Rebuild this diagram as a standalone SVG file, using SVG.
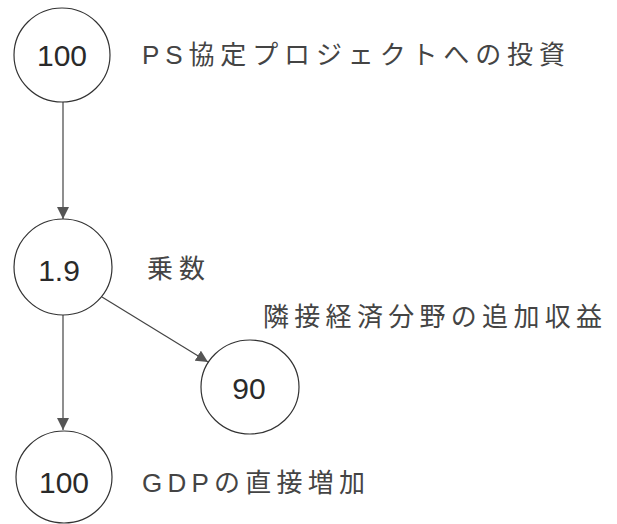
<svg xmlns="http://www.w3.org/2000/svg" width="617" height="524" viewBox="0 0 617 524">
<style>
.node ellipse{fill:#fff;stroke:#333;stroke-width:1.2}
.num{font-family:"Liberation Sans",Arial,sans-serif;font-size:30px;fill:#2a2a2a;text-anchor:middle}
.lbl{font-family:"Liberation Sans","Noto Sans CJK JP",sans-serif;font-size:26px;fill:#444}
.edge{stroke:#444;stroke-width:1.2;fill:none}
</style>
<defs>
<marker id="arr" viewBox="0 0 10 10" refX="10" refY="5" markerWidth="12" markerHeight="12" markerUnits="userSpaceOnUse" orient="auto">
<path d="M0,0 L10,5 L0,10 Z" fill="#555"/>
</marker>
</defs>
<rect width="617" height="524" fill="#fff"/>
<g id="connectors">
<line class="edge" x1="63" y1="102" x2="63" y2="219" marker-end="url(#arr)"/>
<line class="edge" x1="102" y1="297" x2="208" y2="362" marker-end="url(#arr)"/>
<line class="edge" x1="63" y1="315" x2="63" y2="430" marker-end="url(#arr)"/>
</g>
<g id="n1" class="node">
<ellipse cx="62" cy="55" rx="48" ry="47"/>
<text class="num" x="62" y="66">100</text>
<text class="lbl" x="142" y="64" textLength="423" lengthAdjust="spacing">PS協定プロジェクトへの投資</text>
</g>
<g id="n2" class="node">
<ellipse cx="63" cy="267" rx="49" ry="48"/>
<text class="num" x="59" y="281">1.9</text>
<text class="lbl" x="147" y="278" textLength="58" lengthAdjust="spacing">乗数</text>
</g>
<g id="n3" class="node">
<ellipse cx="250" cy="387" rx="49" ry="47"/>
<text class="num" x="249" y="399">90</text>
<text class="lbl" x="263" y="326" textLength="339" lengthAdjust="spacing">隣接経済分野の追加収益</text>
</g>
<g id="n4" class="node">
<ellipse cx="64" cy="477" rx="48" ry="46"/>
<text class="num" x="64" y="493">100</text>
<text class="lbl" x="142" y="492" textLength="223" lengthAdjust="spacing">GDPの直接増加</text>
</g>
</svg>
